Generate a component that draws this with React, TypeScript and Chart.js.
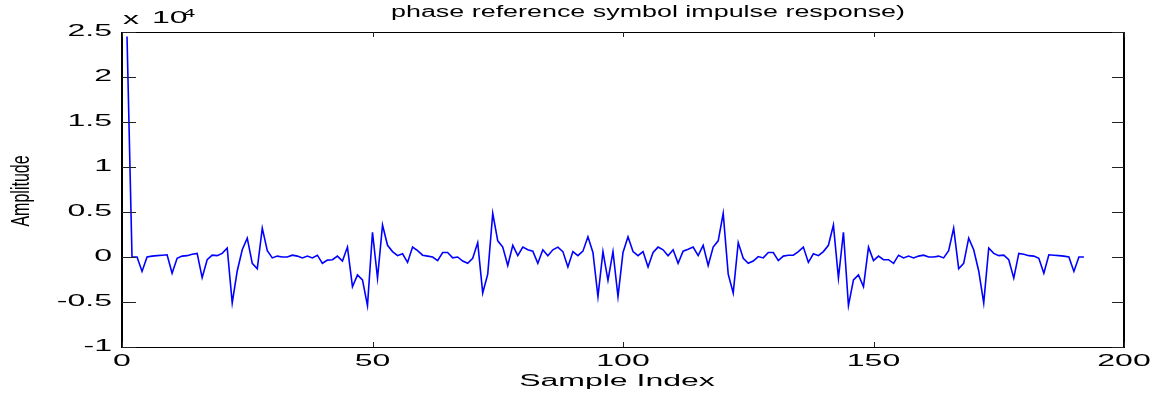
import React, { useEffect, useRef } from "react";
import { Chart, registerables } from "chart.js";

Chart.register(...registerables);

const TITLE = "phase reference symbol impulse response)";
const X_LABEL = "Sample Index";
const Y_LABEL = "Amplitude";
const EXP_BASE = "10";
const EXP_POWER = "4";

const xTicks = [0, 50, 100, 150, 200];
const yTicks = [-1, -0.5, 0, 0.5, 1, 1.5, 2, 2.5];
const yTickLabels = ["-1", "-0.5", "0", "0.5", "1", "1.5", "2", "2.5"];

// amplitude in units of 10^4, samples 1..192
const amplitude = [
  2.45, 0.0, 0.0, -0.16, 0.0, 0.01, 0.015, 0.02, 0.025, -0.18,
  -0.015, 0.01, 0.015, 0.03, 0.04, -0.23, -0.03, 0.02, 0.015, 0.04,
  0.1, -0.51, -0.155, 0.08, 0.21, -0.07, -0.13, 0.32, 0.07, -0.01,
  0.01, 0.0, 0.0, 0.02, 0.01, -0.01, 0.01, -0.01, 0.02, -0.07,
  -0.035, -0.03, 0.01, -0.045, 0.11, -0.33, -0.2, -0.255, -0.54, 0.275,
  -0.235, 0.355, 0.13, 0.06, 0.015, 0.035, -0.06, 0.11, 0.07, 0.02,
  0.01, 0.0, -0.04, 0.05, 0.05, -0.01, 0.0, -0.045, -0.07, -0.015,
  0.16, -0.4, -0.19, 0.485, 0.18, 0.11, -0.095, 0.13, 0.015, 0.11,
  0.08, 0.065, -0.07, 0.08, 0.015, 0.08, 0.11, 0.06, -0.11, 0.06,
  0.015, 0.065, 0.225, 0.05, -0.44, 0.06, -0.26, 0.06, -0.44, 0.05,
  0.225, 0.06, 0.015, 0.06, -0.11, 0.05, 0.11, 0.08, 0.015, 0.08,
  -0.07, 0.065, 0.085, 0.11, 0.015, 0.13, -0.095, 0.11, 0.18, 0.485,
  -0.19, -0.4, 0.16, -0.015, -0.07, -0.045, 0.005, -0.01, 0.05, 0.05,
  -0.04, 0.01, 0.02, 0.02, 0.06, 0.11, -0.06, 0.035, 0.015, 0.06,
  0.13, 0.355, -0.235, 0.275, -0.54, -0.255, -0.2, -0.33, 0.11, -0.04,
  0.01, -0.03, -0.03, -0.07, 0.02, -0.01, 0.01, -0.01, 0.01, 0.02,
  0.0, 0.0, 0.01, -0.01, 0.07, 0.32, -0.13, -0.07, 0.21, 0.08,
  -0.155, -0.51, 0.1, 0.04, 0.015, 0.02, -0.03, -0.235, 0.04, 0.03,
  0.015, 0.01, -0.015, -0.18, 0.025, 0.02, 0.015, 0.01, 0.0, -0.16,
  0.0, 0.0,
];
const sampleIndex = amplitude.map((_, i) => i + 1);

const FONT = '"Liberation Sans", Arial, Helvetica, sans-serif';
const SX = 2.0;
const TITLE_SX = 1.68;

function stretched(
  ctx: CanvasRenderingContext2D,
  text: string,
  x: number,
  y: number,
  align: CanvasTextAlign,
  sx: number
) {
  ctx.save();
  ctx.translate(x, y);
  ctx.scale(sx, 1);
  ctx.textAlign = align;
  ctx.fillText(text, 0, 0);
  ctx.restore();
}

const matlabFrame = {
  id: "matlabFrame",
  afterDraw(chart: any) {
    const { ctx, chartArea: a, scales } = chart;
    const xs = scales.x;
    const ys = scales.y;
    ctx.save();
    ctx.strokeStyle = "#000";
    ctx.lineWidth = 1;
    ctx.beginPath();
    ctx.moveTo(a.left, a.top + 0.5);
    ctx.lineTo(a.right, a.top + 0.5);
    ctx.moveTo(a.left, a.bottom + 0.5);
    ctx.lineTo(a.right, a.bottom + 0.5);
    ctx.stroke();
    ctx.lineWidth = 2;
    ctx.beginPath();
    ctx.moveTo(a.left, a.top);
    ctx.lineTo(a.left, a.bottom + 1);
    ctx.moveTo(a.right, a.top);
    ctx.lineTo(a.right, a.bottom + 1);
    ctx.stroke();

    ctx.lineWidth = 1;
    ctx.strokeStyle = "#222";
    ctx.beginPath();
    yTicks.forEach((v) => {
      const py = Math.round(ys.getPixelForValue(v)) + 0.5;
      ctx.moveTo(a.left, py);
      ctx.lineTo(a.left + 14, py);
      ctx.moveTo(a.right - 12, py);
      ctx.lineTo(a.right, py);
    });
    xTicks.forEach((v) => {
      const px = Math.round(xs.getPixelForValue(v)) + 0.5;
      ctx.moveTo(px, a.bottom);
      ctx.lineTo(px, a.bottom - 5);
      ctx.moveTo(px, a.top);
      ctx.lineTo(px, a.top + 5);
    });
    ctx.stroke();

    ctx.fillStyle = "#000";
    ctx.font = `16px ${FONT}`;
    ctx.textBaseline = "middle";
    yTicks.forEach((v, i) => {
      const py = ys.getPixelForValue(v);
      stretched(ctx, yTickLabels[i], a.left - 10, py, "right", SX);
    });
    xTicks.forEach((v) => {
      const px = xs.getPixelForValue(v);
      stretched(ctx, String(v), px, a.bottom + 15, "center", SX);
    });

    stretched(ctx, X_LABEL, 617, 382, "center", SX);

    stretched(ctx, TITLE, 648, 13, "center", TITLE_SX);

    stretched(ctx, "x", a.left + 1, 20, "left", SX);
    stretched(ctx, EXP_BASE, a.left + 30, 19, "left", SX);
    ctx.font = `11px ${FONT}`;
    stretched(ctx, EXP_POWER, a.left + 61, 14, "left", SX);

    ctx.font = `16px ${FONT}`;
    ctx.save();
    ctx.translate(22, 191);
    ctx.rotate(-Math.PI / 2);
    ctx.scale(1, 1.6);
    ctx.textAlign = "center";
    ctx.textBaseline = "middle";
    ctx.fillText(Y_LABEL, 0, 0);
    ctx.restore();

    ctx.restore();
  },
};

export default function App() {
  const canvasRef = useRef<HTMLCanvasElement | null>(null);

  useEffect(() => {
    const canvas = canvasRef.current;
    if (!canvas) return;
    const chart = new Chart(canvas, {
      type: "line",
      data: {
        datasets: [
          {
            label: Y_LABEL,
            data: sampleIndex.map((x, i) => ({ x, y: amplitude[i] })),
            borderColor: "#0000ff",
            borderWidth: 1.6,
            pointRadius: 0,
            fill: false,
            tension: 0,
          },
        ],
      },
      options: {
        responsive: false,
        animation: false,
        layout: { padding: { top: 32, right: 29, left: 0, bottom: 0 } },
        plugins: {
          legend: { display: false },
          tooltip: { enabled: false },
          title: { display: false },
        },
        scales: {
          x: {
            type: "linear",
            min: 0,
            max: 200,
            grid: { display: false },
            border: { display: false },
            ticks: { display: false },
            afterBuildTicks: (s: any) => {
              s.ticks = xTicks.map((v) => ({ value: v }));
            },
            afterFit: (s: any) => {
              s.height = 49;
            },
          },
          y: {
            type: "linear",
            min: -1,
            max: 2.5,
            grid: { display: false },
            border: { display: false },
            ticks: { display: false },
            afterBuildTicks: (s: any) => {
              s.ticks = yTicks.map((v) => ({ value: v }));
            },
            afterFit: (s: any) => {
              s.width = 122;
            },
          },
        },
      },
      plugins: [matlabFrame],
    } as any);
    return () => chart.destroy();
  }, []);

  return (
    <div style={{ position: "fixed", left: 0, top: 0, width: 1153, height: 396, background: "#fff" }}>
      <canvas ref={canvasRef} width={1153} height={396} style={{ display: "block" }} />
    </div>
  );
}
